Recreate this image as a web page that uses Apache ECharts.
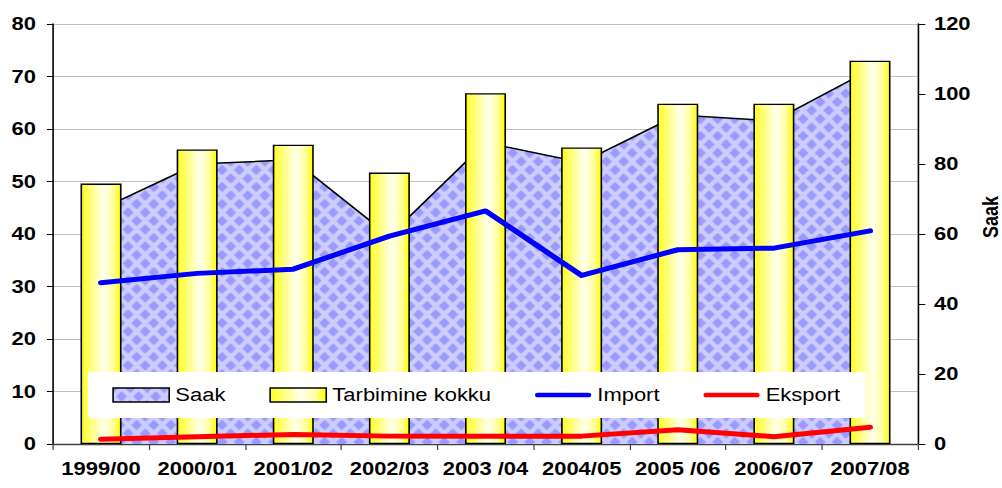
<!DOCTYPE html>
<html>
<head>
<meta charset="utf-8">
<script src="https://cdn.jsdelivr.net/npm/echarts@6/dist/echarts.min.js"></script>
<style>
html, body { margin:0; padding:0; background:#fff; overflow:hidden; }
/* the original picture is stretched sideways, so draw narrower and widen it */
#chart { width:821px; height:488px; transform:scaleX(1.2205); transform-origin:0 0; }
</style>
</head>
<body>
<div id="chart"></div>
<script>
var categories = ['1999/00', '2000/01', '2001/02', '2002/03', '2003 /04', '2004/05', '2005 /06', '2006/07', '2007/08'];
var saak = [67.1, 80.0, 81.2, 59.4, 86.1, 80.4, 94.0, 92.3, 106.9];
var tarbimine = [49.6, 56.1, 57.0, 51.7, 66.8, 56.5, 64.8, 64.8, 73.0];
var importVals = [30.7, 32.5, 33.3, 39.6, 44.4, 32.1, 37.0, 37.3, 40.6];
var eksport = [0.9, 1.4, 1.8, 1.5, 1.5, 1.5, 2.7, 1.4, 3.2];

var FONT = '"Liberation Sans", Arial, sans-serif';

// diamond pattern for the Saak area
function makePattern()
{
	var c = document.createElement('canvas');
	var w = 14, h = 17;
	c.width = w; c.height = h;
	var g = c.getContext('2d');
	g.fillStyle = '#ccccff';
	g.fillRect(0, 0, w, h);
	g.fillStyle = '#9999ff';
	var rw = 4.4, rh = 5.3;
	function dia(cx, cy)
	{
		g.beginPath();
		g.moveTo(cx, cy - rh);
		g.lineTo(cx + rw, cy);
		g.lineTo(cx, cy + rh);
		g.lineTo(cx - rw, cy);
		g.closePath();
		g.fill();
	}
	dia(w / 2, h / 2);
	dia(0, 0); dia(w, 0); dia(0, h); dia(w, h);
	return c;
}
var pattern = { image: makePattern(), repeat: 'repeat' };

var barFill = new echarts.graphic.LinearGradient(0, 0, 1, 0, [
	{ offset: 0, color: '#ffff20' },
	{ offset: 0.55, color: '#ffffec' },
	{ offset: 0.8, color: '#ffffa8' },
	{ offset: 1, color: '#ffff00' }
]);

var lineIcon = 'path://M3,0 H57 A3,3 0 0 1 57,6 H3 A3,3 0 0 1 3,0 Z';

var chart = echarts.init(document.getElementById('chart'), null, { renderer: 'svg' });

var option = {
	animation: false,
	backgroundColor: '#fff',
	grid: { left: 43.4, right: 68.8, top: 24, bottom: 44, outerBoundsMode: 'none', containLabel: false },
	legend: {
		left: 72, top: 372,
		padding: [14, 21, 14, 20],
		backgroundColor: '#fff',
		itemWidth: 46, itemHeight: 14, itemGap: 36,
		z: 10,
		textStyle: { fontFamily: FONT, fontSize: 18, color: '#000', lineHeight: 18 },
		data: [
			{ name: 'Saak', icon: 'rect', itemStyle: { color: pattern, borderColor: '#000', borderWidth: 1.3 } },
			{ name: 'Tarbimine kokku', icon: 'rect', itemStyle: { color: barFill, borderColor: '#000', borderWidth: 1.3 } },
			{ name: 'Import', icon: lineIcon, itemStyle: { color: '#0000ff', borderWidth: 0 } },
			{ name: 'Eksport', icon: lineIcon, itemStyle: { color: '#ff0000', borderWidth: 0 } }
		]
	},
	xAxis: {
		type: 'category',
		data: categories,
		boundaryGap: true,
		axisLine: { lineStyle: { color: '#404040', width: 1.3 } },
		axisTick: { show: true, length: 6, lineStyle: { color: '#404040' } },
		axisLabel: { fontFamily: FONT, fontSize: 18, fontWeight: 'bold', color: '#000', margin: 16, interval: 0 }
	},
	yAxis: [
		{
			type: 'value', min: 0, max: 80, interval: 10,
			axisLine: { show: true, lineStyle: { color: '#000', width: 1.3 } },
			axisTick: { show: true, length: 5, lineStyle: { color: '#000' } },
			axisLabel: { fontFamily: FONT, fontSize: 18, fontWeight: 'bold', color: '#000', margin: 14 },
			splitLine: { show: true, lineStyle: { color: '#c0c0c0', width: 1 } }
		},
		{
			type: 'value', min: 0, max: 120, interval: 20, position: 'right',
			name: 'Saak', nameLocation: 'middle', nameGap: 50, nameRotate: 90, nameMoveOverlap: false,
			nameTextStyle: { fontFamily: FONT, fontSize: 18, fontWeight: 'bold', color: '#000', lineHeight: 18, padding: [0, 0, 0, 34] },
			axisLine: { show: true, lineStyle: { color: '#000', width: 1.3 } },
			axisTick: { show: true, length: 6, lineStyle: { color: '#000' } },
			axisLabel: { fontFamily: FONT, fontSize: 18, fontWeight: 'bold', color: '#000', margin: 13 },
			splitLine: { show: false }
		}
	],
	series: [
		{
			name: 'Saak', type: 'line', yAxisIndex: 1,
			data: saak,
			z: 1,
			symbol: 'none',
			itemStyle: { color: '#9999ff' },
			lineStyle: { color: '#000', width: 1.5 },
			areaStyle: { color: pattern, opacity: 1 }
		},
		{
			name: 'Tarbimine kokku', type: 'bar', yAxisIndex: 0,
			data: tarbimine,
			z: 3,
			barWidth: 33.6,
			itemStyle: { color: barFill, borderColor: '#000', borderWidth: 1.3 }
		},
		{
			name: 'Import', type: 'line', yAxisIndex: 0,
			data: importVals,
			z: 4,
			symbol: 'none',
			itemStyle: { color: '#0000ff' },
			lineStyle: { color: '#0000ff', width: 5, cap: 'round', join: 'round' }
		},
		{
			name: 'Eksport', type: 'line', yAxisIndex: 0,
			data: eksport,
			z: 4,
			symbol: 'none',
			itemStyle: { color: '#ff0000' },
			lineStyle: { color: '#ff0000', width: 5, cap: 'round', join: 'round' }
		}
	]
};

chart.setOption(option);
</script>
</body>
</html>
